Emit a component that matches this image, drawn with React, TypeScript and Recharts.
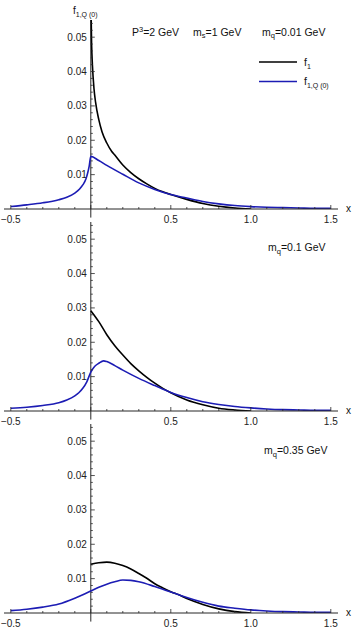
import { LineChart, Line, XAxis, YAxis, ReferenceLine } from "recharts";

// tick positions (minor ticks every 0.1 / 0.002, labels on the majors)
const xTicks = [-0.5, -0.4, -0.3, -0.2, -0.1, 0, 0.1, 0.2, 0.3, 0.4, 0.5, 0.6, 0.7, 0.8, 0.9, 1.0, 1.1, 1.2, 1.3, 1.4, 1.5];
const yTicks = [
  0.002, 0.004, 0.006, 0.008, 0.01, 0.012, 0.014, 0.016, 0.018, 0.02, 0.022, 0.024, 0.026, 0.028,
  0.03, 0.032, 0.034, 0.036, 0.038, 0.04, 0.042, 0.044, 0.046, 0.048, 0.05, 0.052, 0.054,
];

// panel 1: m_q = 0.01 GeV
const f1X_a = [0, 0.005, 0.01, 0.02, 0.03, 0.05, 0.07, 0.1, 0.13, 0.15, 0.2, 0.25, 0.3, 0.35, 0.4, 0.45, 0.5, 0.6, 0.7, 0.8, 0.9, 1.0];
const f1Y_a = [0.062, 0.048, 0.042, 0.035, 0.031, 0.026, 0.0225, 0.0192, 0.0168, 0.0157, 0.0128, 0.0106, 0.0088, 0.0073, 0.006, 0.005, 0.0042, 0.0028, 0.0016, 0.0008, 0.0003, 0];
const fqX_a = [-0.5, -0.4, -0.3, -0.2, -0.15, -0.1, -0.07, -0.05, -0.03, -0.02, -0.01, 0, 0.05, 0.1, 0.2, 0.3, 0.4, 0.5, 0.6, 0.7, 0.8, 0.9, 1.0, 1.1, 1.2, 1.3, 1.4, 1.5];
const fqY_a = [0.0007, 0.0012, 0.0018, 0.0027, 0.0034, 0.0046, 0.0058, 0.007, 0.0088, 0.0104, 0.0125, 0.0153, 0.0141, 0.0127, 0.0101, 0.0076, 0.0057, 0.0042, 0.0032, 0.0022, 0.0015, 0.001, 0.0007, 0.0005, 0.0004, 0.0003, 0.0002, 0.0002];

// panel 2: m_q = 0.1 GeV
const f1X_b = [0, 0.05, 0.1, 0.15, 0.2, 0.25, 0.3, 0.35, 0.4, 0.45, 0.5, 0.6, 0.7, 0.8, 0.9, 1.0];
const f1Y_b = [0.0292, 0.026, 0.0222, 0.019, 0.0163, 0.0138, 0.0117, 0.0098, 0.0081, 0.0066, 0.0053, 0.0032, 0.0018, 0.0008, 0.0003, 0];
const fqX_b = [-0.5, -0.4, -0.3, -0.2, -0.15, -0.1, -0.075, -0.05, -0.025, 0, 0.025, 0.05, 0.08, 0.1, 0.15, 0.2, 0.3, 0.4, 0.5, 0.6, 0.7, 0.8, 0.9, 1.0, 1.1, 1.2, 1.3, 1.4, 1.5];
const fqY_b = [0.0008, 0.0011, 0.0016, 0.0024, 0.0032, 0.0044, 0.0053, 0.0066, 0.0085, 0.0113, 0.013, 0.0139, 0.0146, 0.0144, 0.0132, 0.0119, 0.0095, 0.0074, 0.0054, 0.0039, 0.0027, 0.0019, 0.0013, 0.0009, 0.0006, 0.0004, 0.0003, 0.0002, 0.0002];

// panel 3: m_q = 0.35 GeV
const f1X_c = [0, 0.05, 0.1, 0.15, 0.2, 0.25, 0.3, 0.35, 0.4, 0.45, 0.5, 0.55, 0.6, 0.7, 0.8, 0.9, 1.0];
const f1Y_c = [0.0142, 0.0146, 0.0148, 0.0145, 0.0138, 0.0128, 0.0115, 0.0101, 0.0085, 0.0073, 0.0062, 0.0053, 0.0042, 0.0025, 0.0012, 0.0004, 0];
const fqX_c = [-0.5, -0.4, -0.3, -0.2, -0.1, -0.05, 0, 0.05, 0.1, 0.15, 0.2, 0.25, 0.3, 0.4, 0.5, 0.55, 0.6, 0.7, 0.8, 0.9, 1.0, 1.1, 1.2, 1.3, 1.4, 1.5];
const fqY_c = [0.0007, 0.0011, 0.0017, 0.0026, 0.0043, 0.0053, 0.0064, 0.0075, 0.0084, 0.0091, 0.0096, 0.0095, 0.0091, 0.0077, 0.0061, 0.0053, 0.0045, 0.0031, 0.002, 0.0014, 0.0009, 0.0006, 0.0004, 0.0003, 0.0002, 0.0002];

const zip = (xs: number[], ys: number[]) => xs.map((x, i) => ({ x, y: ys[i] }));

const BLACK = "#000000";
const BLUE = "#1c1cb4";
const AXIS = "#262626";
const FONT = "'Liberation Sans', Arial, sans-serif";

const CW = 354;
const CH = 230;
const XH = 20;
const MT = 21;
const ML = 3;
const YW = 1; // y axis needs a nonzero width or recharts skips its ticks
const MR = 16;
const X_DOMAIN: [number, number] = [-0.5425, 1.545];
const Y_DOMAIN: [number, number] = [0, 0.055];
const AXIS_Y = CH - XH;
const PLOT_L = ML + YW;
const ORIGIN_X = PLOT_L + ((0 - X_DOMAIN[0]) / (X_DOMAIN[1] - X_DOMAIN[0])) * (CW - PLOT_L - MR);

function XTick(props: any) {
  const { x, payload } = props;
  const v = payload.value as number;
  const major = Math.round(v * 10) % 5 === 0;
  return (
    <g>
      <line x1={x} x2={x} y1={AXIS_Y} y2={AXIS_Y - (major ? 4 : 2)} stroke={AXIS} strokeWidth={0.8} />
      {major && v !== 0 && (
        <text x={x} y={AXIS_Y + 13.5} textAnchor="middle" fontSize={10} fontFamily={FONT} fill="#222">
          {v.toFixed(1).replace("-", "\u2212")}
        </text>
      )}
    </g>
  );
}

function YTick(props: any) {
  const { y, payload } = props;
  const v = payload.value as number;
  const major = Math.round(v * 1000) % 10 === 0;
  return (
    <g>
      <line x1={ORIGIN_X} x2={ORIGIN_X + (major ? 4 : 2)} y1={y} y2={y} stroke={AXIS} strokeWidth={0.8} />
      {major && (
        <text x={ORIGIN_X - 4} y={y + 3.5} textAnchor="end" fontSize={10} fontFamily={FONT} fill="#222">
          {v.toFixed(2)}
        </text>
      )}
    </g>
  );
}

function Panel({ top, f1, fq }: { top: number; f1: { x: number; y: number }[]; fq: { x: number; y: number }[] }) {
  return (
    <div style={{ position: "absolute", left: 0, top }}>
      <LineChart width={CW} height={CH} margin={{ top: MT, right: MR, bottom: 0, left: ML }}>
        <XAxis
          dataKey="x"
          type="number"
          domain={X_DOMAIN}
          ticks={xTicks}
          interval={0}
          allowDataOverflow
          height={XH}
          tickLine={false}
          axisLine={{ stroke: AXIS, strokeWidth: 1 }}
          tick={(p: any) => <XTick {...p} />}
        />
        <YAxis
          type="number"
          domain={Y_DOMAIN}
          ticks={yTicks}
          interval={0}
          allowDataOverflow
          width={YW}
          tickLine={false}
          axisLine={false}
          tick={(p: any) => <YTick {...p} />}
        />
        <ReferenceLine
          segment={[{ x: 0, y: -0.0025 }, { x: 0, y: 0.055 }]}
          stroke={AXIS}
          strokeWidth={1}
          ifOverflow="visible"
        />
        <Line data={f1} dataKey="y" type="monotone" stroke={BLACK} strokeWidth={1.6} dot={false} isAnimationActive={false} />
        <Line data={fq} dataKey="y" type="monotone" stroke={BLUE} strokeWidth={1.6} dot={false} isAnimationActive={false} />
      </LineChart>
    </div>
  );
}

const txt = { fontFamily: FONT, fontSize: 10.5, fill: "#111" };

export default function App() {
  const panels = [
    { top: -1, f1: zip(f1X_a, f1Y_a), fq: zip(fqX_a, fqY_a) },
    { top: 201, f1: zip(f1X_b, f1Y_b), fq: zip(fqX_b, fqY_b) },
    { top: 403, f1: zip(f1X_c, f1Y_c), fq: zip(fqX_c, fqY_c) },
  ];
  return (
    <div style={{ position: "absolute", left: 0, top: 0, width: CW, height: 634, background: "#fff" }}>
      {panels.map((p, i) => (
        <Panel key={i} top={p.top} f1={p.f1} fq={p.fq} />
      ))}
      <svg width={CW} height={634} style={{ position: "absolute", left: 0, top: 0, pointerEvents: "none" }}>
        {/* y axis label */}
        <text x={73} y={14} {...txt} fontSize={10}>
          f<tspan fontSize={7} dy={3}>1,Q (0)</tspan>
        </text>
        {/* x axis labels */}
        {panels.map((p, i) => (
          <text key={i} x={346} y={p.top + AXIS_Y + 3} {...txt} fontSize={10}>x</text>
        ))}
        {/* panel 1 parameters */}
        <text x={132} y={35.5} {...txt}>
          P<tspan fontSize={7.5} dy={-4}>3</tspan><tspan dy={4}>=2 GeV</tspan>
        </text>
        <text x={193} y={35.5} {...txt}>
          m<tspan fontSize={7.5} dy={2.5}>s</tspan><tspan dy={-2.5}>=1 GeV</tspan>
        </text>
        <text x={262} y={35.5} {...txt}>
          m<tspan fontSize={7.5} dy={2.5}>q</tspan><tspan dy={-2.5}>=0.01 GeV</tspan>
        </text>
        {/* legend */}
        <line x1={259} x2={297} y1={62} y2={62} stroke={BLACK} strokeWidth={1.6} />
        <text x={304} y={66} {...txt}>
          f<tspan fontSize={7} dy={3}>1</tspan>
        </text>
        <line x1={259} x2={297} y1={81.5} y2={81.5} stroke={BLUE} strokeWidth={1.6} />
        <text x={304} y={85} {...txt}>
          f<tspan fontSize={7} dy={3}>1,Q (0)</tspan>
        </text>
        {/* panel 2 and 3 parameters */}
        <text x={268} y={251} {...txt}>
          m<tspan fontSize={7.5} dy={2.5}>q</tspan><tspan dy={-2.5}>=0.1 GeV</tspan>
        </text>
        <text x={264} y={454} {...txt}>
          m<tspan fontSize={7.5} dy={2.5}>q</tspan><tspan dy={-2.5}>=0.35 GeV</tspan>
        </text>
      </svg>
    </div>
  );
}
